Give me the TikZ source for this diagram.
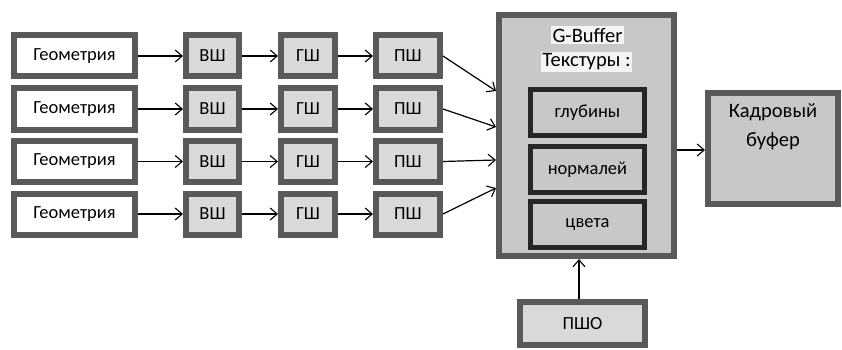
\documentclass[tikz,border=0pt]{standalone}
\usepackage{fontspec}
\setmainfont{Carlito}
\usetikzlibrary{arrows.meta}
\definecolor{frame}{HTML}{595959}
\definecolor{light}{HTML}{D9D9D9}
\definecolor{mid}{HTML}{C8C8C8}
\definecolor{dark}{HTML}{262626}
\definecolor{hl}{HTML}{F4F4F4}
\tikzset{
  small/.style={font=\fontsize{18.5}{21}\selectfont},
  large/.style={font=\fontsize{20.5}{29}\selectfont},
  box/.style={draw=frame, line width=6pt, minimum height=41pt, inner sep=0pt, small},
  geo/.style={box, fill=white, minimum width=121pt},
  shader/.style={box, fill=light},
  texbox/.style={draw=dark, line width=5pt, fill=mid, minimum width=114pt,
    minimum height=46pt, inner sep=0pt, small},
  arr/.style={line width=1.2pt, -{Straight Barb[length=7pt,width=12pt,line width=1.1pt]}},
}
\begin{document}
\begin{tikzpicture}[x=1pt,y=-1pt]
\useasboundingbox (0,0) rectangle (842,350);

% four geometry pipelines
\foreach \i/\y in {1/56,2/109,3/161.5,4/214}{
  \node[geo] (g\i) at (74.5,\y) {Геометрия};
  \node[shader, minimum width=53pt] (v\i) at (212.5,\y) {ВШ};
  \node[shader, minimum width=54pt] (s\i) at (308,\y) {ГШ};
  \node[shader, minimum width=64pt] (p\i) at (408,\y) {ПШ};
  \draw[arr] (g\i) -- (v\i);
  \draw[arr] (v\i) -- (s\i);
  \draw[arr] (s\i) -- (p\i);
}

% G-buffer with its textures
\node[draw=frame, line width=6pt, fill=mid, minimum width=175pt, minimum height=241pt] (gbuf) at (586.5,135.5) {};
\node[fill=hl, inner sep=1.5pt, large] (gbt) at (587.5,35) {G-Buffer};
\node[fill=hl, inner sep=1.5pt, large] (tx) at (586.5,62) {Текстуры :};
\node[texbox] (depth) at (587.5,112.5) {глубины};
\node[texbox] (norm) at (587.5,169.5) {нормалей};
\node[texbox] (col) at (587.5,224.5) {цвета};

% frame buffer
\node[draw=frame, line width=6pt, fill=mid, minimum width=130pt, minimum height=111pt] (fb) at (773,148.5) {};
\node[large, align=center, inner sep=0pt] (fbt) at (773,127) {Кадровый\\буфер};

% deferred shading pass
\node[box, fill=light, minimum width=125pt, minimum height=43pt] (pso) at (582.5,323.5) {ПШО};

% connectors into the G-buffer
\draw[arr] (p1.east) -- ([yshift=44.5pt]gbuf.west);
\draw[arr] (p2.east) -- ([yshift=8.5pt]gbuf.west);
\draw[arr] (p3.east) -- ([yshift=-24.5pt]gbuf.west);
\draw[arr] (p4.east) -- ([yshift=-52.5pt]gbuf.west);
\draw[arr] ([yshift=-14.5pt]gbuf.east) -- ([yshift=-1.5pt]fb.west);
\draw[arr] ([xshift=-3.5pt]pso.north) -- ([xshift=-7.5pt]gbuf.south);
\end{tikzpicture}
\end{document}
